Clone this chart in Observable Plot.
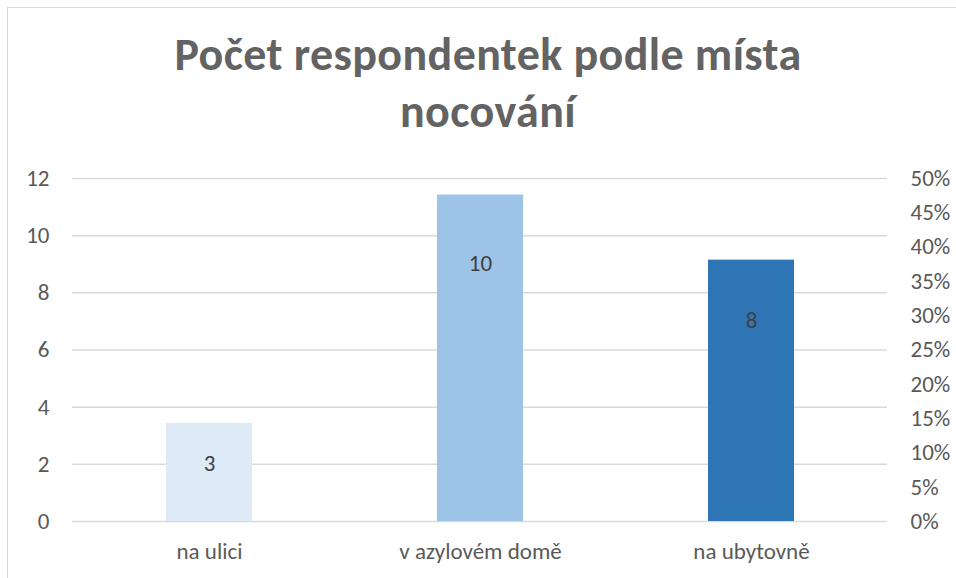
<!DOCTYPE html>
<html>
<head>
<meta charset="utf-8">
<script src="https://cdn.jsdelivr.net/npm/d3@7"></script>
<script src="https://cdn.jsdelivr.net/npm/@observablehq/plot@0.6"></script>
<style>
  html, body { margin: 0; padding: 0; background: #fff; }
  #wrap { position: relative; width: 956px; height: 578px; overflow: hidden; font-family: Carlito, Lato, sans-serif; }
  #frame { position: absolute; left: 7px; top: 7px; width: 1000px; height: 1000px; border: 1.5px solid #d9d9d9; box-sizing: border-box; }
  #title { position: relative; width: 976px; height: 150px; box-sizing: border-box; padding-top: 26px; text-align: center; font-weight: bold; font-size: 46px; letter-spacing: 0.4px; line-height: 57px; color: #636363; }
  #chart { position: relative; }
</style>
</head>
<body>
<div id="wrap">
  <div id="frame"></div>
  <div id="title">Počet respondentek podle místa<br>nocování</div>
  <div id="chart"></div>
</div>
<script>
const categories = ["na ulici", "v azylovém domě", "na ubytovně"];
const counts = [3, 10, 8];
const shares = [0.143, 0.476, 0.381];
const colors = ["#DEEBF7", "#9DC3E6", "#2E75B6"];
const leftTicks = [0, 2, 4, 6, 8, 10, 12];
const rightTicks = [0, 0.05, 0.10, 0.15, 0.20, 0.25, 0.30, 0.35, 0.40, 0.45, 0.50];
const leftMax = 12;
const rightMax = 0.5;

const data = categories.map((c, i) => ({cat: c, count: counts[i], share: shares[i], color: colors[i]}));
const toRight = v => v / leftMax * rightMax;

const fontSize = 23;
const chart = Plot.plot({
  width: 956,
  height: 428,
  marginTop: 28,
  marginBottom: 57,
  marginLeft: 72,
  marginRight: 69,
  style: {fontFamily: "Carlito, Lato, sans-serif", fontSize: fontSize + "px", color: "#595959", background: "transparent"},
  x: {domain: categories, paddingInner: 0.683, paddingOuter: 0.3415, label: null},
  y: {domain: [0, rightMax], label: null},
  marks: [
    Plot.gridY(leftTicks.map(toRight), {stroke: "#d9d9d9", strokeOpacity: 1, strokeWidth: 1.5}),
    Plot.barY(data, {x: "cat", y: "share", fill: "color"}),
    Plot.text(data, {x: "cat", y: d => toRight(d.count), text: d => String(d.count), dy: 28, fill: "#404040", fontSize: fontSize}),
    Plot.axisY(leftTicks.map(toRight), {anchor: "left", tickSize: 0, tickPadding: 23, tickFormat: d => String(Math.round(d / rightMax * leftMax)), fill: "#595959", fontSize: fontSize, label: null}),
    Plot.axisY(rightTicks, {anchor: "right", tickSize: 0, tickPadding: 23, tickFormat: d => Math.round(d * 100) + "%", fill: "#595959", fontSize: fontSize, label: null}),
    Plot.axisX({tickSize: 0, tickPadding: 21, fill: "#595959", fontSize: fontSize, label: null})
  ]
});
document.getElementById("chart").appendChild(chart);
</script>
</body>
</html>
